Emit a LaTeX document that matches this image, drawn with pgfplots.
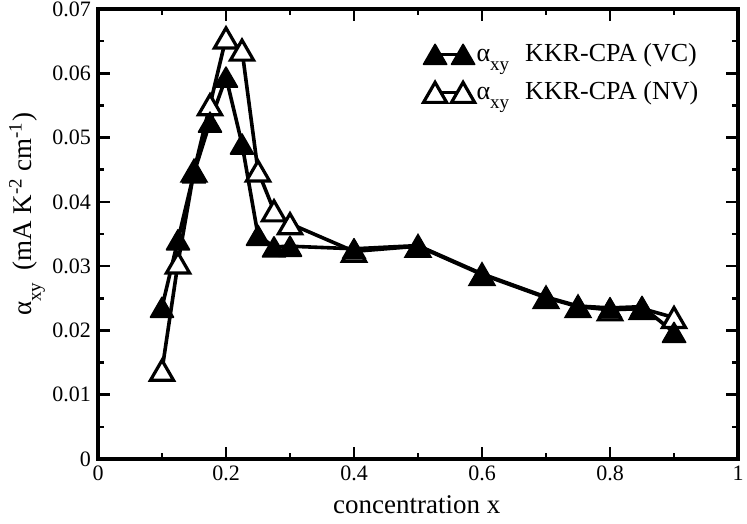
\documentclass[border=0pt]{standalone}
\usepackage{fontspec}
\setmainfont{Liberation Serif}
\usepackage{pgfplots}
\pgfplotsset{compat=1.18}
\newcommand\sub[1]{\raisebox{-0.33em}{\fontsize{9.5}{9.5}\selectfont #1}}
\pgfdeclareplotmark{gtri}{%
 \pgfpathmoveto{\pgfqpoint{0pt}{\pgfplotmarksize}}%
 \pgfpathlineto{\pgfqpoint{-1.155\pgfplotmarksize}{-\pgfplotmarksize}}%
 \pgfpathlineto{\pgfqpoint{1.155\pgfplotmarksize}{-\pgfplotmarksize}}%
 \pgfpathclose
 \pgfusepathqfillstroke}
\begin{document}
\begin{tikzpicture}
\begin{axis}[
  at={(0,0)}, anchor=south west,
  scale only axis, width=320pt, height=225pt,
  xmin=0, xmax=1, ymin=0, ymax=0.07,
  xtick={0,0.2,0.4,0.6,0.8,1},
  ytick={0,0.01,0.02,0.03,0.04,0.05,0.06,0.07},
  minor x tick num=1, minor y tick num=1,
  scaled y ticks=false,
  yticklabel style={/pgf/number format/fixed,/pgf/number format/precision=2},
  /pgf/number format/assume math mode=true,
  tick align=inside, tick pos=both,
  major tick length=6pt, minor tick length=3pt,
  every tick/.style={line width=1.3pt, black},
  axis line style={line width=1.8pt},
  tick label style={font=\fontsize{11}{13}\selectfont},
  xlabel={concentration x},
  ylabel={α\sub{xy}\hspace{6pt}(mA K\textsuperscript{-2} cm\textsuperscript{-1})},
  label style={font=\fontsize{13.5}{16}\selectfont},
  xlabel style={at={(axis description cs:0.498,0)}, anchor=base, yshift=-27pt},
  ylabel style={at={(axis description cs:0,0.544)}, anchor=base, yshift=33pt},
  legend style={draw=none, fill=none, at={(axis description cs:0.508,0.857)}, anchor=west,
    font=\fontsize{13}{15}\selectfont, row sep=6.5pt, inner sep=0pt,
    nodes={inner sep=1pt}},
  legend cell align=left,
  reverse legend,
  legend image code/.code={\draw[#1] plot coordinates {(0pt,0pt) (14pt,0pt)};},
]
\addplot[black, line width=1.8pt, line join=round, mark=gtri, mark size=5pt,
  mark options={fill=white, line width=1.6pt, line join=miter, solid}]
  coordinates {
  (0.1,0.0138) (0.125,0.0305) (0.15,0.0448) (0.175,0.0551) (0.2,0.0655)
  (0.225,0.0636) (0.25,0.0448) (0.275,0.0386) (0.3,0.0366) (0.4,0.0323)
  (0.5,0.0331) (0.6,0.0287) (0.7,0.0251) (0.75,0.0237) (0.8,0.0232)
  (0.85,0.0234) (0.9,0.0220)};
\addlegendentry{α\sub{xy}\hspace{8pt}KKR-CPA (NV)}
\addplot[black, line width=1.8pt, line join=round, mark=gtri, mark size=5pt,
  mark options={fill=black, line width=0.8pt, solid}]
  coordinates {
  (0.1,0.0236) (0.125,0.0341) (0.15,0.0445) (0.175,0.0524) (0.2,0.0594)
  (0.225,0.0490) (0.25,0.0348) (0.275,0.0330) (0.3,0.0331) (0.4,0.0327)
  (0.5,0.0332) (0.6,0.0288) (0.7,0.0252) (0.75,0.0238) (0.8,0.0235)
  (0.85,0.0237) (0.9,0.0197)};
\addlegendentry{α\sub{xy}\hspace{8pt}KKR-CPA (VC)}
\end{axis}
\pgfresetboundingbox
\useasboundingbox (-49pt,-32pt) rectangle (324.5pt,229.5pt);
\end{tikzpicture}
\end{document}
